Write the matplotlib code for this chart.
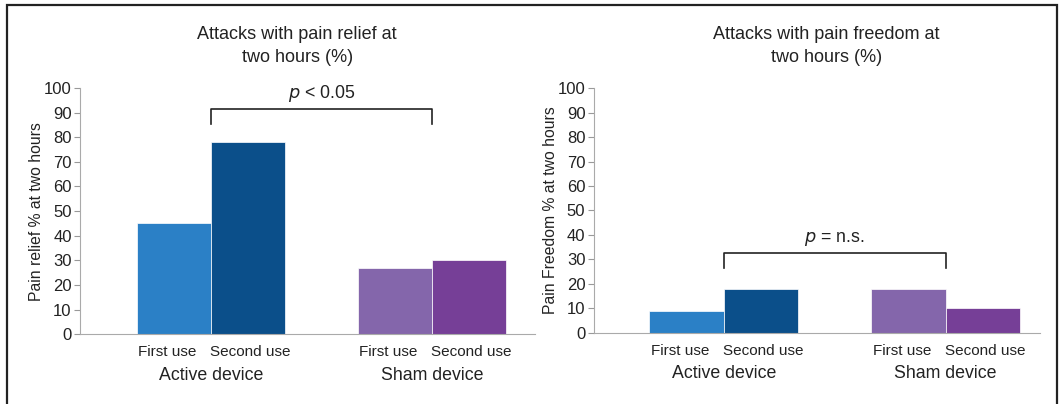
import matplotlib.pyplot as plt
from matplotlib.patches import Rectangle

plt.rcParams['font.family'] = ['Liberation Sans', 'DejaVu Sans']

groups = ["Active device", "Sham device"]
uses = ["First use", "Second use"]
relief_first = [45, 27]
relief_second = [78, 30]
freedom_first = [9, 18]
freedom_second = [18, 10]
yticks = [0, 10, 20, 30, 40, 50, 60, 70, 80, 90, 100]

colors_first = ["#2b80c6", "#8466ab"]
colors_second = ["#0b4f8a", "#763f97"]

fig = plt.figure(figsize=(10.64, 4.04), dpi=100)

# outer frame of the figure
fig.patches.append(Rectangle((7 / 1064, -0.1), 1050 / 1064, 1.1 - 5 / 404,
                             transform=fig.transFigure, fill=False,
                             edgecolor="#222222", linewidth=1.6, clip_on=False))


def draw_panel(ax, first, second, title, title_x, ylabel, ptext, bracket_y, xlim):
    w = 0.335
    centers = [0, 1]
    for i, c in enumerate(centers):
        ax.bar(c - w / 2, first[i], width=w, color=colors_first[i],
               edgecolor="white", linewidth=0.5)
        ax.bar(c + w / 2, second[i], width=w, color=colors_second[i],
               edgecolor="white", linewidth=0.5)
        ax.text(c - w / 2 - 0.03, -4.5, uses[0], ha="center", va="top", fontsize=11,
                color="#222222")
        ax.text(c + w / 2 + 0.01, -4.5, uses[1], ha="center", va="top", fontsize=11,
                color="#222222")
        ax.text(c, -13.3, groups[i], ha="center", va="top", fontsize=12.8,
                color="#222222")

    ax.set_xlim(*xlim)
    ax.set_ylim(0, 100)
    ax.set_yticks(yticks)
    ax.set_xticks([])
    ax.tick_params(axis="y", direction="out", length=4, color="#999999",
                   labelsize=12, labelcolor="#222222", pad=2)
    for s in ["top", "right"]:
        ax.spines[s].set_visible(False)
    ax.spines["left"].set_color("#aaaaaa")
    ax.spines["bottom"].set_color("#aaaaaa")
    ax.set_ylabel(ylabel, fontsize=11.3, color="#222222", labelpad=0)
    ax.text(title_x, 1.09, title, transform=ax.transAxes, ha="center", va="bottom",
            fontsize=13, color="#222222", linespacing=1.45)

    # significance bracket
    x0, x1 = 0, 1
    ax.plot([x0, x0, x1, x1], [bracket_y - 6, bracket_y, bracket_y, bracket_y - 6],
            color="#222222", linewidth=1.2, clip_on=False)
    ax.text((x0 + x1) / 2, bracket_y + 2, ptext, ha="center", va="bottom",
            fontsize=12.8, color="#222222")


ax1 = fig.add_axes([0.0752, 0.173, 0.428, 0.609])
draw_panel(ax1, relief_first, relief_second,
           "Attacks with pain relief at\ntwo hours (%)", (297 - 80) / 455,
           "Pain relief % at two hours", r"$p$ < 0.05", 91.5, (-0.593, 1.466))

ax2 = fig.add_axes([0.558, 0.176, 0.419, 0.606])
draw_panel(ax2, freedom_first, freedom_second,
           "Attacks with pain freedom at\ntwo hours (%)", (827 - 594) / 446,
           "Pain Freedom % at two hours", r"$p$ = n.s.", 32.5, (-0.586, 1.423))

fig.savefig("out.png", dpi=100)
